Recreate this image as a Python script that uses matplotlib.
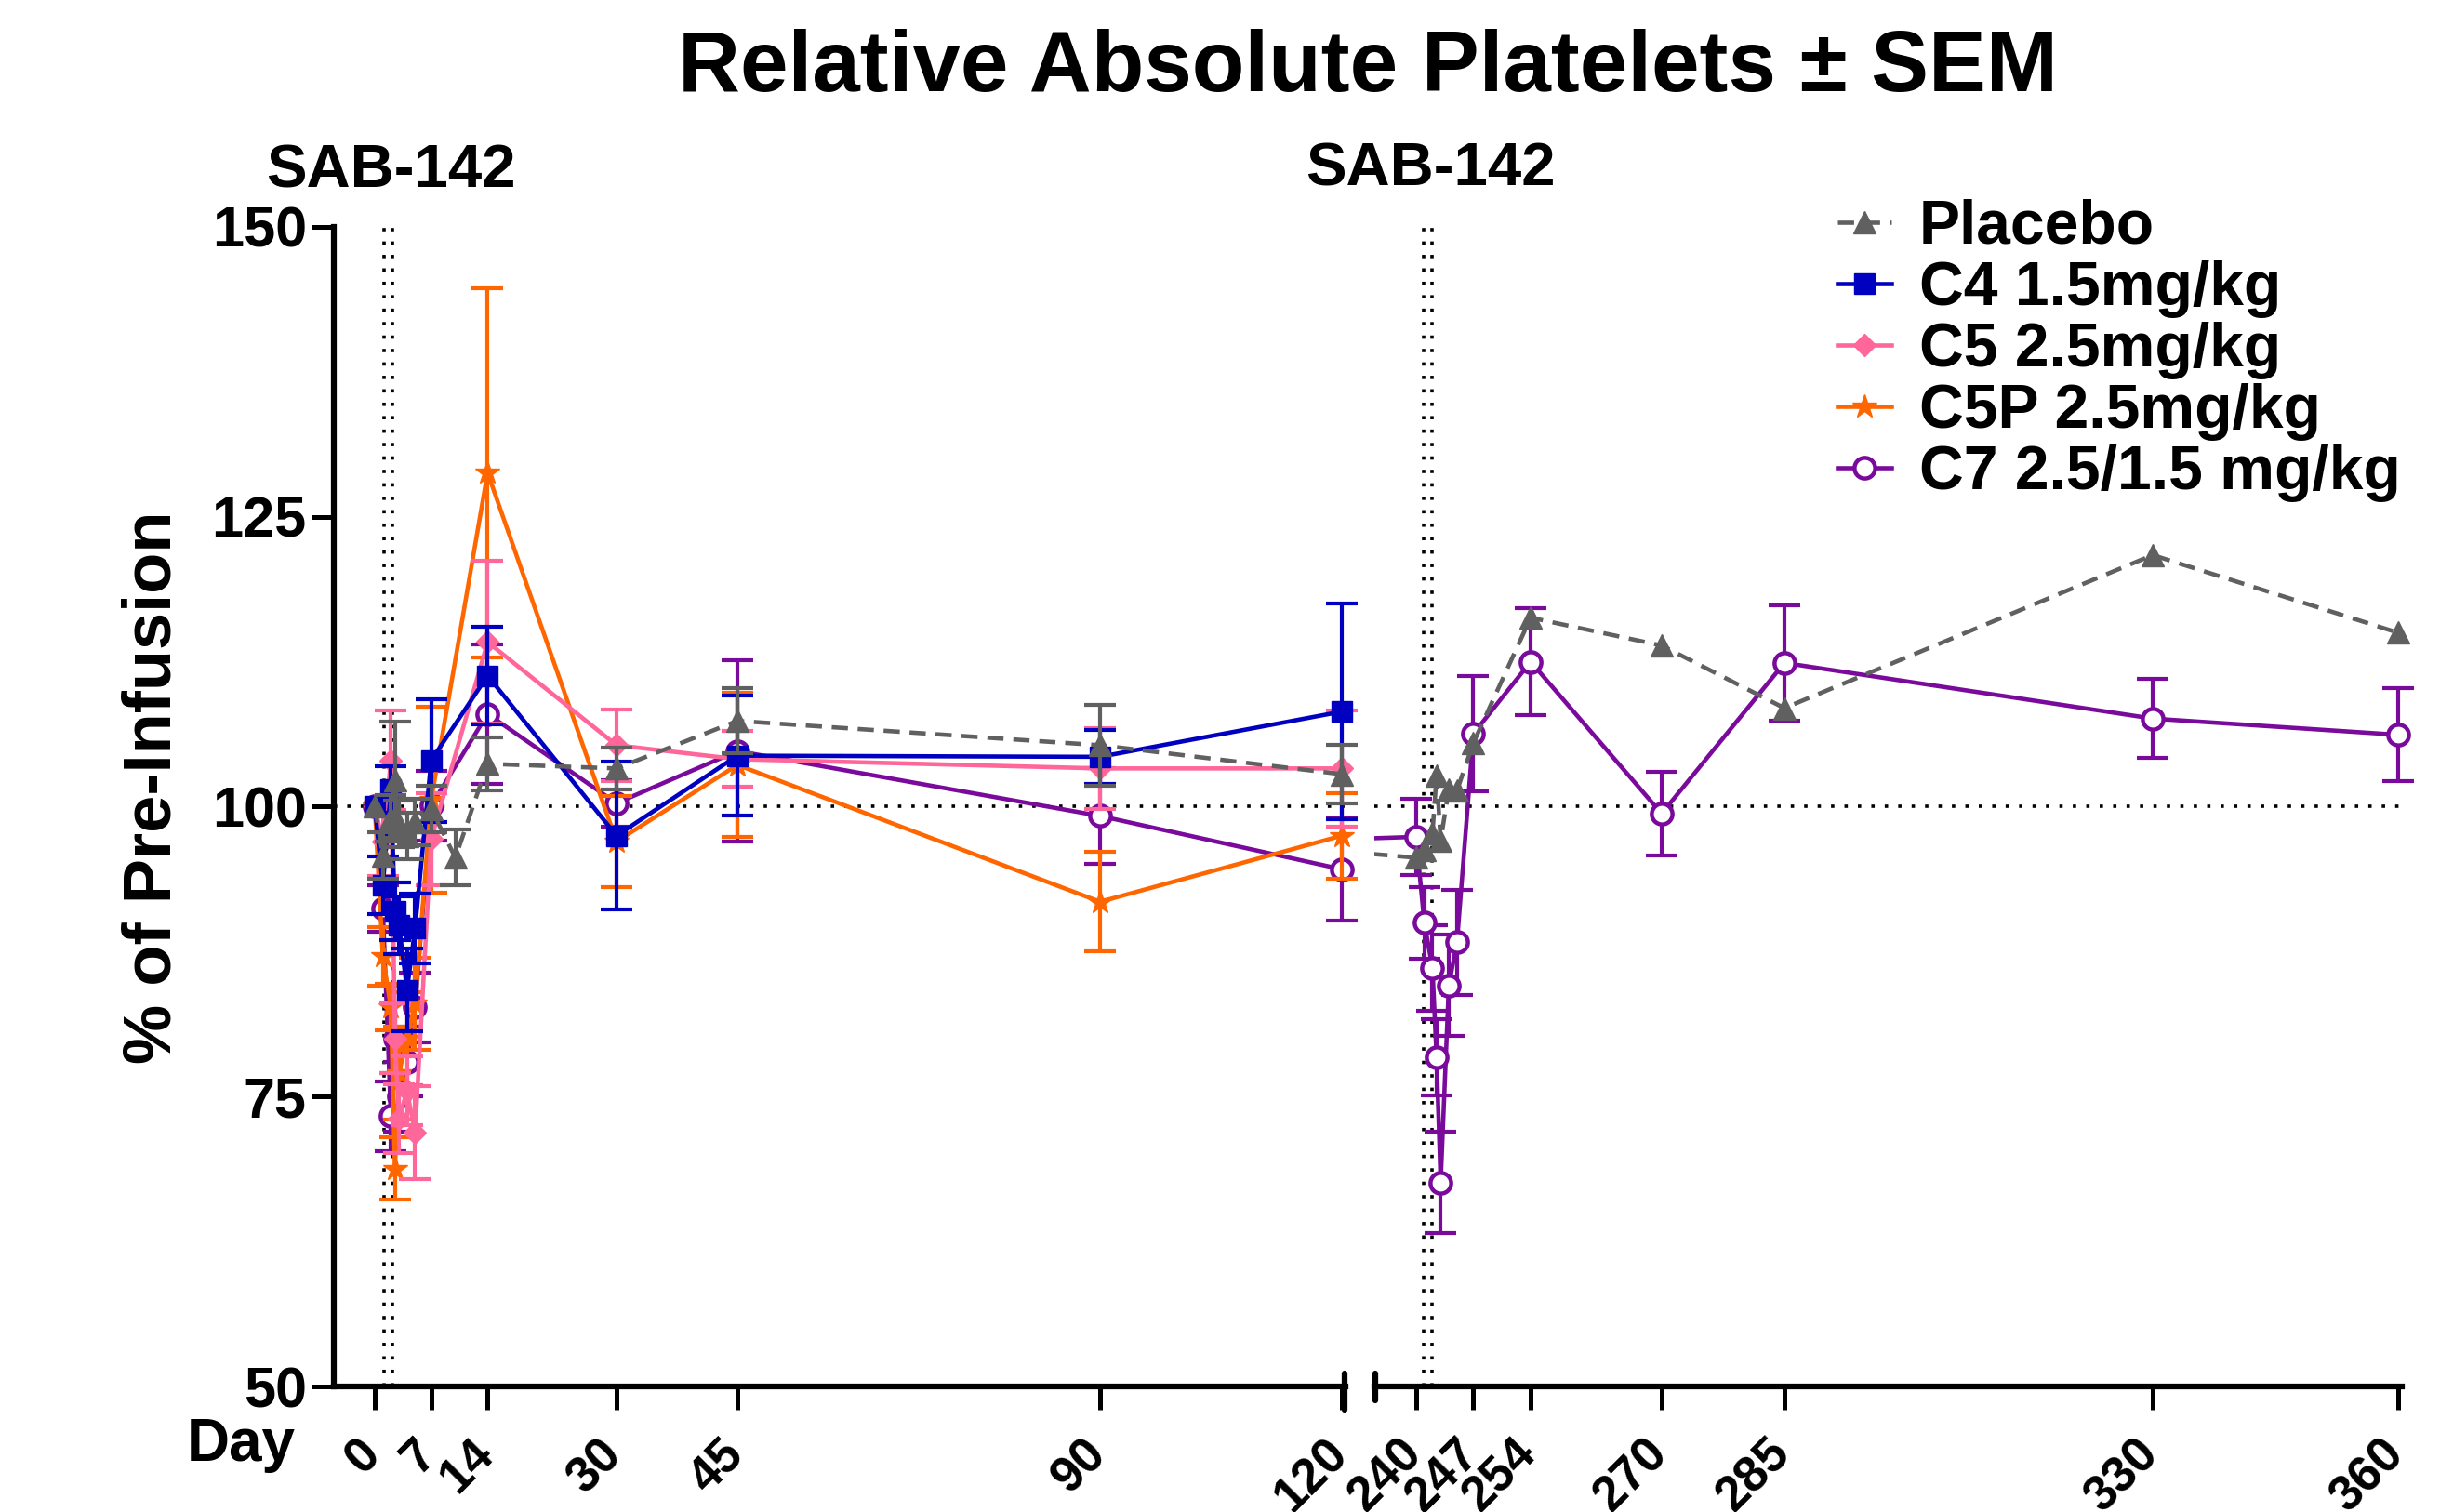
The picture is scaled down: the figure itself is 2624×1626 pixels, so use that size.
import numpy as np
import matplotlib
matplotlib.use("Agg")
import matplotlib.pyplot as plt
from matplotlib.lines import Line2D
import matplotlib.transforms as mtransforms

# ---------------- data ----------------
nan = np.nan
placebo_days = [0, 1, 2, 2.5, 3, 4, 5, 7, 10, 14, 30, 45, 90, 120,
                240, 241, 242, 242.5, 243, 244, 245, 247, 254, 270, 285, 330, 360]
placebo_vals = [100, 95.8, 99.0, 102.3, 98.5, 97.5, 98.7, 99.8, 95.6, 103.7, 103.3, 107.4, 105.3, 102.8,
                95.6, 96.3, 97.7, 102.7, 97.1, 101.5, 101.4, 105.5, 116.3, 113.9, 108.5, 121.7, 115.0]
placebo_err = [nan, 2.0, 2.0, 5.0, 2.0, 2.0, 2.0, 2.0, 2.4, 2.3, 1.8, 2.8, 3.5, 2.5,
               nan, nan, nan, nan, nan, nan, nan, nan, nan, nan, nan, nan, nan]

early_days = [0, 1, 2, 2.5, 3, 4, 5, 7, 14, 30, 45, 90, 120]
c4_vals = [100, 93.2, 101.5, 91.0, 89.8, 84.2, 89.5, 104.0, 111.3, 97.5, 104.4, 104.3, 108.2]
c4_err = [nan, 2.5, 2.0, 2.5, 2.5, 3.6, 3.0, 5.3, 4.2, 6.4, 5.2, 2.3, 9.3]
c5_vals = [100, 97.0, 104.0, 80.0, 73.1, 75.5, 71.9, 97.2, 114.2, 105.3, 104.1, 103.3, 103.3]
c5_err = [nan, 3.0, 4.3, 3.0, 3.0, 3.0, 4.0, 4.0, 7.0, 3.1, 2.4, 3.5, 5.0]
c5p_vals = [100, 87.1, 82.7, 68.8, 77.0, 80.0, 83.0, 100.6, 128.8, 97.0, 103.6, 91.8, 97.5]
c5p_err = [nan, 2.5, 2.0, 2.7, 4.0, 4.0, 4.0, 8.0, 15.9, 3.9, 6.2, 4.3, 3.7]

c7_days = [0, 1, 2, 2.5, 3, 4, 5, 7, 14, 30, 45, 90, 120,
           240, 241, 242, 242.5, 243, 244, 245, 247, 254, 270, 285, 330, 360]
c7_vals = [100, 91.2, 73.3, 80.0, 75.0, 78.0, 82.7, 100.1, 108.0, 100.3, 104.8, 99.2, 94.6,
           97.4, 90.0, 86.1, 78.4, 67.6, 84.6, 88.3, 106.3, 112.5, 99.4, 112.4, 107.6, 106.2]
c7_err = [nan, 2.0, 3.0, 3.0, 3.0, 3.0, 3.0, 3.0, 6.0, 2.0, 7.8, 4.1, 4.4,
          3.3, 3.1, 3.7, 3.3, 4.4, 4.4, 4.5, 5.0, 4.6, 3.6, 5.0, 3.4, 4.0]

left_ticks = [0, 7, 14, 30, 45, 90, 120]
right_ticks = [240, 247, 254, 270, 285, 330, 360]
y_ticks = [50, 75, 100, 125, 150]
dose_days_left = [1.1, 2.15]
dose_days_right = [240.95, 242.0]

series = [
    # label, days, vals, err, color, marker, ms, linestyle, mfc, zorder
    ("C7 2.5/1.5 mg/kg", c7_days, c7_vals, c7_err, "#7A0A9C", "o", 16, "-", "white", 3),
    ("C5P 2.5mg/kg", early_days, c5p_vals, c5p_err, "#FF6600", "*", 19, "-", None, 4),
    ("C5 2.5mg/kg", early_days, c5_vals, c5_err, "#FF6699", "D", 12, "-", None, 5),
    ("C4 1.5mg/kg", early_days, c4_vals, c4_err, "#0000C0", "s", 16, "-", None, 6),
    ("Placebo", placebo_days, placebo_vals, placebo_err, "#606060", "^", 17, (0, (3.8, 2.3)), None, 7),
]

# ---------------- figure ----------------
W, H = 2624, 1626
plt.rcParams['font.family'] = ['Liberation Sans', 'DejaVu Sans']
plt.rcParams['font.weight'] = 'bold'
fig = plt.figure(figsize=(W / 100, H / 100), dpi=100)


def fx(px):
    return px / W


def fy(py):
    return 1 - py / H


y_top, y_bot = 244, 1491
axL = fig.add_axes([fx(359), fy(y_bot), (1447 - 359) / W, (y_bot - y_top) / H])
axR = fig.add_axes([fx(1478), fy(y_bot), (2583 - 1478) / W, (y_bot - y_top) / H])
axL.set_xlim(-5.08, 120.46)
axR.set_xlim(234.9, 360.45)

LW_AX = 4.5
for ax in (axL, axR):
    ax.set_ylim(50, 150)
    ax.spines['top'].set_visible(False)
    ax.spines['right'].set_visible(False)
    ax.spines['bottom'].set_linewidth(LW_AX)
    ax.spines['left'].set_linewidth(LW_AX)
    ax.axhline(100, color='black', lw=2.6, linestyle=(0, (1, 3)), zorder=1)
    ax.tick_params(axis='x', direction='out', length=18, width=3.6, labelsize=38, pad=16)
axR.spines['left'].set_visible(False)
axR.tick_params(axis='y', left=False, labelleft=False)
axL.set_yticks(y_ticks)
axL.tick_params(axis='y', direction='out', length=17, width=3.6, labelsize=44, pad=4)

for d in dose_days_left:
    axL.axvline(d, color='black', lw=2.6, linestyle=(0, (1, 3)), zorder=1)
for d in dose_days_right:
    axR.axvline(d, color='black', lw=2.6, linestyle=(0, (1, 3)), zorder=1)

axL.set_xticks(left_ticks)
axL.set_xticklabels([str(t) for t in left_ticks])
axR.set_xticks(right_ticks)
axR.set_xticklabels([str(t) for t in right_ticks])

for ax in (axL, axR):
    off = mtransforms.ScaledTranslation(16 / 100, 0, fig.dpi_scale_trans)
    for lbl in ax.get_xticklabels():
        lbl.set_rotation(45)
        lbl.set_ha('right')
        lbl.set_va('top')
        lbl.set_transform(lbl.get_transform() + off)

# data
LW = 3.3
handles = {}
for label, days, vals, err, col, mk, ms, ls, mfc, z in series:
    days = np.asarray(days, float)
    vals = np.asarray(vals, float)
    err = np.asarray(err, float)
    for ax in (axL, axR):
        lo, hi = ax.get_xlim()
        ax.plot(days, vals, color=col, lw=LW, linestyle=ls, zorder=z, solid_capstyle='butt')
        m = (days >= lo) & (days <= hi)
        ax.errorbar(days[m], vals[m], yerr=err[m], fmt='none', ecolor=col, elinewidth=3.0,
                    capsize=12, capthick=3.0, zorder=z, clip_on=False)
        ax.plot(days[m], vals[m], linestyle='none', marker=mk, ms=ms, color=col,
                mfc=(mfc if mfc else col), mec=col, mew=(3.2 if mfc else 1.0), zorder=z + 0.5,
                clip_on=False)
    handles[label] = Line2D([], [], color=col, lw=LW, linestyle=ls, marker=mk, ms=ms,
                            mfc=(mfc if mfc else col), mec=col, mew=(3.2 if mfc else 1.0))

# axis break marks
for xpix, y0, y1 in [(1446, 1477, 1516), (1479, 1477, 1506)]:
    fig.add_artist(Line2D([fx(xpix), fx(xpix)], [fy(y0), fy(y1)], color='black', lw=LW_AX,
                          solid_capstyle='round'))

# texts
fig.text(fx(1471), fy(98), "Relative Absolute Platelets \u00b1 SEM", ha='center', va='baseline',
         fontsize=66.7, fontweight='bold')
fig.text(fx(420), fy(201), "SAB-142", ha='center', va='baseline', fontsize=47, fontweight='bold')
fig.text(fx(1538), fy(199), "SAB-142", ha='center', va='baseline', fontsize=47, fontweight='bold')
fig.text(fx(165), fy(847), "% of Pre-Infusion", ha='center', va='center', rotation=90,
         fontsize=52, fontweight='bold')
fig.text(fx(318), fy(1571), "Day", ha='right', va='baseline', fontsize=46, fontweight='bold')

order = ["Placebo", "C4 1.5mg/kg", "C5 2.5mg/kg", "C5P 2.5mg/kg", "C7 2.5/1.5 mg/kg"]
fig.legend([handles[k] for k in order], order, loc='upper left',
           bbox_to_anchor=(fx(1976), fy(214)), frameon=False,
           handlelength=0.88, handletextpad=0.45, labelspacing=0.06, borderpad=0,
           borderaxespad=0, prop={'weight': 'bold', 'size': 47.5})

fig.savefig("out.png", dpi=100)
